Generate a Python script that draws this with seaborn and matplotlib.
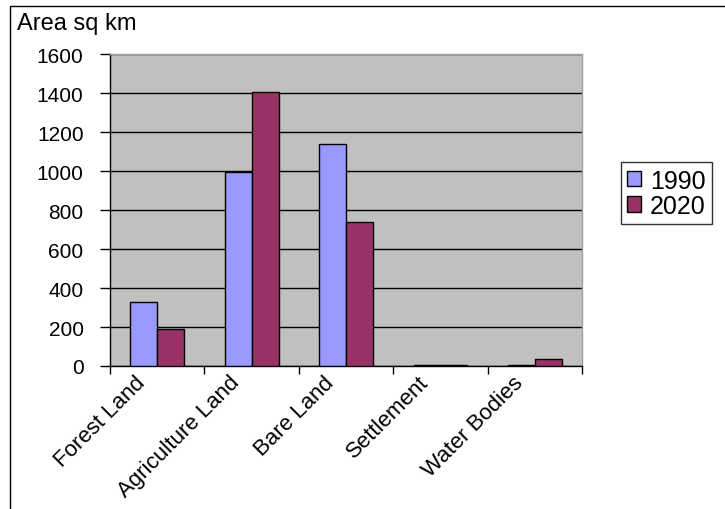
import matplotlib
matplotlib.use("Agg")
import matplotlib.pyplot as plt
from matplotlib.patches import Rectangle
import pandas as pd
import seaborn as sns

categories = ["Forest Land", "Agriculture Land", "Bare Land", "Settlement", "Water Bodies"]
years = ["1990", "2020"]
area_1990 = [330, 995, 1140, 4, 3]
area_2020 = [190, 1405, 740, 4, 35]
y_ticks = [0, 200, 400, 600, 800, 1000, 1200, 1400, 1600]

sns.set_style("white")
plt.rcParams["font.family"] = ["Liberation Sans", "DejaVu Sans"]
plt.rcParams["text.color"] = "black"
plt.rcParams["xtick.color"] = "black"
plt.rcParams["ytick.color"] = "black"

df = pd.DataFrame({
    "category": categories * 2,
    "year": [years[0]] * len(categories) + [years[1]] * len(categories),
    "area": area_1990 + area_2020,
})

fig = plt.figure(figsize=(7.25, 5.1), dpi=100)
ax = fig.add_axes([0.1517, 0.2804, 0.8028 - 0.1517, 0.892 - 0.2804])
ax.set_facecolor("#C0C0C0")

sns.barplot(data=df, x="category", y="area", hue="year", order=categories,
            hue_order=years, palette=["#9999FF", "#993366"], width=0.57,
            edgecolor="black", linewidth=1.0, saturation=1, ax=ax, zorder=3)

ax.set_ylim(0, 1600)
ax.set_xlim(-0.5, len(categories) - 0.5)
ax.set_yticks(y_ticks)
ax.set_yticklabels([str(v) for v in y_ticks], fontsize=15)
ax.yaxis.grid(True, color="black", linewidth=1.0, zorder=1)
ax.set_axisbelow(True)
ax.tick_params(axis="y", direction="out", length=7, width=1, color="black", left=True,
               pad=12, labelcolor="black")

# ticks on category boundaries, labels at category centres
ax.set_xticks([i - 0.5 for i in range(len(categories) + 1)])
ax.set_xticklabels([])
ax.tick_params(axis="x", direction="out", length=6, width=1, color="black", bottom=True)
for i, name in enumerate(categories):
    ax.text(i - 0.24, -28, name, rotation=45, ha="right", va="top",
            rotation_mode="anchor", fontsize=16, color="black", transform=ax.transData)

for side in ["left", "bottom"]:
    ax.spines[side].set_color("black")
    ax.spines[side].set_linewidth(1.0)
for side in ["top", "right"]:
    ax.spines[side].set_color("#A0A0A0")
    ax.spines[side].set_linewidth(1.0)

ax.set_xlabel("")
ax.set_ylabel("")

leg = ax.legend(loc="center left", bbox_to_anchor=(1.083, 0.554), frameon=True,
                fancybox=False, edgecolor="black", fontsize=18, handlelength=0.55,
                handleheight=0.55, handletextpad=0.35, borderpad=0.25, labelspacing=0.05,
                borderaxespad=0)
leg.get_frame().set_linewidth(1.0)

fig.text(17 / 725, 1 - 24 / 510, "Area sq km", fontsize=17, ha="left", va="center")

# outer chart border
fig.add_artist(Rectangle((10 / 725, -0.1), 1.0, 1 - 7 / 510 + 0.1, transform=fig.transFigure,
                         fill=False, edgecolor="black", linewidth=1.0))

fig.savefig("out.png", dpi=100)
